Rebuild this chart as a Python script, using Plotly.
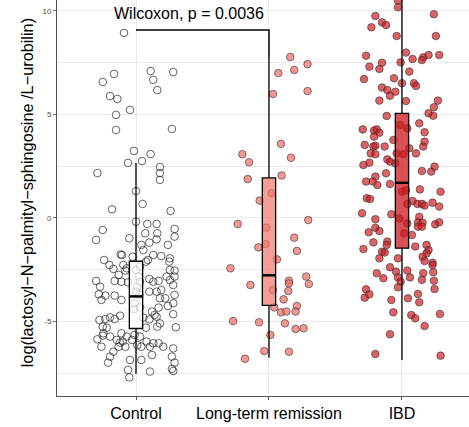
import plotly.graph_objects as go

# ---------------- data ----------------
categories = ["Control", "Long-term remission", "IBD"]

ctrl_y = [8.94, 6.96, 6.57, 5.89, 5.75, 5.22, 4.98, 4.25, 7.05, 4.30, 7.10, 6.67, 6.18,
          3.24, 3.09, 2.66, 2.75, 2.17, 2.46, 1.84, 2.17, 1.30,
          0.42, 0.68, 0.34, -0.58, -1.06, -0.18, -0.29, -0.29, -0.53, -0.74, -0.74, -0.98, -0.90,
          -1.19, -1.30, -1.03, -1.30, -1.55, -1.76, -1.79, -1.87, -1.79, -1.84, -2.03, -1.95,
          -2.03, -2.27, -2.46, -2.27, -2.54, -2.75, -2.43, -2.35, -2.11, -2.11, -2.51, -2.54,
          -3.04, -3.32, -3.04, -3.08, -3.11, -3.08, -2.95, -3.08, -3.04, -2.83, -3.00, -2.83,
          -3.24, -3.69, -3.96, -3.75, -3.75, -3.96, -3.56, -3.56, -3.48, -3.88, -3.88, -4.25,
          -4.12, -3.72, -3.56, -4.12, -4.32, -4.93, -4.88, -4.80, -4.88, -4.72, -5.25, -5.30,
          -4.81, -4.90, -4.77, -4.52, -4.69, -5.09, -5.25, -5.28, -4.65, -4.33, -5.57, -5.86,
          -6.22, -5.73, -5.89, -5.57, -5.73, -6.22, -5.89, -5.65, -5.73, -5.97, -6.22, -6.22,
          -6.05, -6.05, -6.22, -6.30, -6.46, -6.70, -6.99, -6.86, -6.86, -6.62, -6.70, -6.99,
          -7.29, -7.39, -7.42, -7.34, -7.70, -6.22, -5.97, -2.83, -2.51, -3.32, -3.72, -4.41,
          -6.14, -5.30, -5.68, -6.02]
ctrl_dx = [-0.09, -0.165, -0.25, -0.195, -0.14, -0.045, -0.15, -0.15, 0.28, 0.27, 0.11, 0.13, 0.16,
           -0.015, 0.11, -0.06, 0.045, -0.29, 0.18, 0.18, 0.18, 0.0,
           -0.18, 0.05, 0.26, -0.25, -0.30, 0.0, 0.085, 0.155, 0.29, 0.07, 0.16, -0.05, 0.29,
           0.10, 0.04, 0.155, 0.24, 0.055, -0.115, -0.105, -0.025, 0.13, 0.19, 0.09, 0.255,
           -0.24, -0.20, -0.17, -0.095, -0.08, -0.13, -0.07, 0.03, 0.075, 0.25, 0.255, 0.29,
           -0.30, -0.27, -0.16, -0.11, -0.06, 0.03, 0.10, 0.13, 0.17, 0.23, 0.255, 0.29,
           0.28, -0.28, -0.26, -0.23, -0.16, -0.11, 0.10, 0.155, 0.19, 0.18, 0.22, 0.24,
           0.28, 0.29, 0.0, -0.01, 0.03, -0.275, -0.23, -0.195, -0.16, -0.12, -0.25, -0.22,
           0.055, 0.10, 0.155, 0.12, 0.14, 0.18, 0.16, 0.30, 0.28, 0.17, -0.245, -0.29,
           -0.26, -0.195, -0.145, -0.11, -0.07, -0.08, -0.03, -0.01, 0.03, 0.08, 0.105, 0.04,
           0.13, 0.17, 0.205, 0.28, -0.17, -0.195, -0.21, -0.045, 0.04, 0.12, 0.27, 0.29,
           0.27, 0.28, 0.105, -0.06, -0.05, -0.13, -0.10, 0.02, 0.0, 0.01, 0.025, -0.015,
           0.01, 0.075, -0.25, -0.12]

ltr_y = [7.78, 7.00, 7.15, 7.43, 5.99, 6.13, 3.58, 3.08, 2.69, 2.91, 2.05, 1.88, 1.19, 0.84,
         -0.29, -0.47, -0.10, -0.95, -1.59, -1.42, -1.26, -2.00, -2.43, -2.83, -3.03, -3.24,
         -3.16, -3.53, -3.48, -3.93, -4.25, -4.52, -4.56, -4.52, -4.32, -4.98, -5.04, -5.09,
         -5.36, -5.33, -5.65, -6.43, -6.46, -6.80, -3.19]
ltr_dx = [0.16, 0.07, 0.19, 0.29, 0.03, 0.29, 0.09, -0.20, -0.15, 0.165, 0.095, -0.16, 0.02, -0.07,
          -0.235, -0.02, 0.295, 0.19, 0.21, -0.08, -0.025, 0.06, -0.29, 0.28, 0.15, -0.14,
          0.15, 0.145, 0.03, 0.11, 0.21, 0.20, 0.09, 0.13, 0.04, -0.27, -0.075, 0.12,
          0.20, 0.26, 0.01, -0.035, 0.15, -0.18, 0.30]

ibd_y = [11.2, 10.8, 10.5, 10.18, 9.76, 9.84, 9.21, 9.45, 9.32, 8.79, 8.79, 7.84, 7.99, 7.68,
         7.76, 7.87, 7.63, 7.87, 7.52, 7.31, 7.50, 7.20, 7.07, 6.71, 6.75, 6.51, 6.51, 6.38,
         6.30, 6.18, 5.91, 6.10, 5.67, 5.65, 5.67, 5.35, 5.06, 4.94, 4.93, 4.28, 4.22, 4.28,
         4.12, 3.93, 4.57, 4.14, 4.49, 4.33, 3.77, 3.53, 3.45, 3.49, 3.45, 3.69, 3.45, 3.37,
         3.12, 3.08, 3.12, 3.09, 3.12, 2.83, 2.72, 2.64, 2.67, 2.56, 2.48, 2.24, 2.27, 2.16,
         2.00, 1.76, 1.76, 1.59, 1.64, 1.27, 1.38, 1.27, 0.95, 0.92, 1.35,
         0.82, 0.68, 0.68, 0.68, 0.60, 0.74, 0.55, 0.23, 0.18, -0.06, -0.02, -0.26, 0.06,
         -0.21, -0.23, -0.42, -0.42, -0.31, -0.21, -0.47, -0.69, -0.63, -0.74, -0.82, -1.18,
         -1.14, -1.30, -1.50, -1.63, -1.67, -1.95, -1.38, -1.30, -1.55, -1.71, -1.87, -2.08,
         -1.95, -2.16, -2.27, -2.38, -2.59, -2.54, -2.67, -2.91, -2.87, -3.08, -2.87, -2.67,
         -2.62, -2.99, -3.03, -3.35, -3.43, -3.45, -3.85, -3.69, -3.96, -3.88, -3.67, -4.07,
         -4.56, -4.69, -4.85, -4.64, -5.22, -5.62, -6.57, -6.65]
ibd_dx = [-0.09, 0.02, -0.03, -0.03, -0.20, 0.24, -0.23, -0.15, -0.12, -0.04, 0.255, -0.27, 0.03, 0.08,
          0.16, 0.20, 0.15, 0.28, -0.01, -0.245, -0.15, -0.17, 0.055, -0.285, -0.06, 0.0, 0.09, 0.105,
          -0.15, -0.11, -0.09, -0.05, -0.17, 0.03, 0.27, 0.24, 0.20, 0.235, -0.115, -0.295, -0.21, -0.19,
          -0.17, -0.21, 0.13, 0.17, -0.015, 0.04, -0.065, -0.28, -0.215, -0.20, -0.13, 0.17, 0.16, 0.055,
          -0.235, -0.20, -0.04, 0.01, 0.105, -0.11, -0.09, -0.05, -0.245, -0.29, 0.245, 0.22, 0.15, -0.12,
          -0.20, -0.27, -0.22, -0.185, -0.09, 0.0, 0.135, 0.29, -0.265, -0.24, 0.03,
          0.08, 0.04, 0.115, 0.15, 0.17, 0.23, 0.28, -0.30, -0.08, -0.20, -0.02, 0.04, 0.13,
          0.12, 0.155, 0.12, 0.15, 0.25, 0.28, -0.20, -0.25, -0.17, 0.015, 0.075, -0.215,
          -0.11, -0.115, -0.29, -0.15, -0.13, -0.17, 0.10, 0.185, 0.20, 0.185, 0.155, 0.17,
          -0.03, 0.23, 0.23, -0.09, -0.045, 0.04, -0.19, -0.14, -0.03, -0.01, 0.06, 0.16,
          0.235, 0.15, 0.24, -0.03, 0.245, -0.27, -0.28, -0.245, -0.08, 0.045, 0.12, 0.13,
          -0.065, 0.07, 0.10, 0.285, 0.17, -0.09, -0.20, 0.29]

# box statistics per group: lower whisker, Q1, median, Q3, upper whisker
box_low = [-7.52, -6.75, -6.86]
box_q1 = [-5.34, -4.22, -1.46]
box_med = [-3.79, -2.77, 1.70]
box_q3 = [-2.09, 1.94, 5.05]
box_high = [2.66, 7.78, 11.5]

test_label = "Wilcoxon, p = 0.0036"
bracket_y = 9.08
y_title = "log(lactosyl\u2212N\u2212palmityl\u2212sphingosine /L\u2212urobilin)"

# ---------------- styles ----------------
pt_fill = ["rgba(255,255,255,0)", "rgba(239,105,98,0.7)", "rgba(203,24,29,0.68)"]
pt_line = ["rgba(40,40,40,0.9)", "rgba(50,50,50,0.75)", "rgba(50,50,50,0.75)"]
box_fill = ["rgba(255,255,255,0.72)", "rgba(238,120,110,0.72)", "rgba(203,24,29,0.75)"]
XR = [0.406, 3.504]
YR = [-8.6, 10.53]
FONT = "Liberation Sans, Arial, sans-serif"

fig = go.Figure()

groups_y = [ctrl_y, ltr_y, ibd_y]
groups_dx = [ctrl_dx, ltr_dx, ibd_dx]
for i, (ys, dxs) in enumerate(zip(groups_y, groups_dx)):
    fig.add_trace(go.Scatter(
        x=[i + 1 + d for d in dxs], y=ys, mode="markers",
        marker=dict(size=7.6, color=pt_fill[i], line=dict(color=pt_line[i], width=0.8)),
        showlegend=False, hoverinfo="skip", xaxis="x", yaxis="y"))

# boxes on an overlaying subplot so they sit above the points (as in ggplot)
for i in range(3):
    fig.add_trace(go.Box(
        x=[i + 1], q1=[box_q1[i]], median=[box_med[i]], q3=[box_q3[i]],
        lowerfence=[box_low[i]], upperfence=[box_high[i]],
        width=0.1, whiskerwidth=0, boxpoints=False,
        fillcolor=box_fill[i], line=dict(color="black", width=1.3),
        showlegend=False, hoverinfo="skip", xaxis="x2", yaxis="y2"))
    fig.add_trace(go.Scatter(
        x=[i + 1 - 0.05, i + 1 + 0.05], y=[box_med[i], box_med[i]], mode="lines",
        line=dict(color="black", width=2.4), showlegend=False, hoverinfo="skip",
        xaxis="x2", yaxis="y2"))

# significance bracket
fig.add_trace(go.Scatter(
    x=[1, 2, 2], y=[bracket_y, bracket_y, box_high[1]], mode="lines",
    line=dict(color="black", width=1.5), showlegend=False, hoverinfo="skip",
    xaxis="x2", yaxis="y2"))

fig.add_annotation(x=1.4, y=9.9, xref="x", yref="y", text=test_label, showarrow=False,
                   font=dict(family=FONT, size=16, color="black"), xanchor="center", yanchor="middle")
fig.add_annotation(x=-0.0728, y=0.512, xref="paper", yref="paper", text=y_title, showarrow=False,
                   textangle=-90, font=dict(family=FONT, size=16.3, color="black"),
                   xanchor="center", yanchor="middle")

fig.update_layout(
    width=469, height=427, margin=dict(l=57, r=0, t=0, b=31),
    paper_bgcolor="white", plot_bgcolor="white", showlegend=False,
    font=dict(family=FONT),
    xaxis=dict(range=XR, tickvals=[1, 2, 3], ticktext=categories, showgrid=True,
               gridcolor="#EBEBEB", gridwidth=1, zeroline=False, showline=True,
               linecolor="#555555", linewidth=1, ticks="outside", ticklen=3,
               tickcolor="#555555", tickfont=dict(size=16, color="black", family=FONT)),
    yaxis=dict(range=YR, tickvals=[-5, 0, 5, 10], ticktext=["-5", "0", "5", "10"],
               showgrid=True, gridcolor="#EBEBEB", gridwidth=1, zeroline=False,
               showline=True, linecolor="#555555", linewidth=1, ticks="outside",
               ticklen=3, tickcolor="#777777",
               tickfont=dict(size=8, color="#4D4D4D", family=FONT),
               minor=dict(tickvals=[-7.5, -2.5, 2.5, 7.5], showgrid=True,
                          gridcolor="#EBEBEB", ticks="")),
    xaxis2=dict(range=XR, overlaying="x", visible=False),
    yaxis2=dict(range=YR, overlaying="y", visible=False),
)

fig.write_html("out.html")
